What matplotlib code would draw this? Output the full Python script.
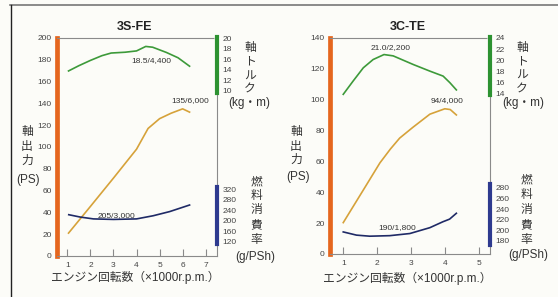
import matplotlib
matplotlib.use("Agg")
import matplotlib.pyplot as plt
from matplotlib.lines import Line2D

plt.rcParams["font.family"] = ["Liberation Sans", "Noto Sans CJK JP", "DejaVu Sans"]

W, H = 558, 297

# 3S-FE
fe_power_rpm = [1.05, 2.0, 3.0, 4.0, 4.5, 5.0, 5.5, 6.0, 6.3]
fe_power = [21, 45.5, 71.5, 98, 117, 126, 131, 135, 132]
fe_torque_rpm = [1.05, 1.5, 2.0, 2.5, 2.9, 3.5, 4.0, 4.4, 4.7, 5.3, 5.8, 6.3]
fe_torque = [13.8, 14.8, 15.8, 16.7, 17.2, 17.35, 17.6, 18.45, 18.3, 17.3, 16.3, 14.7]
fe_fuel_rpm = [1.06, 1.56, 2.13, 3.0, 4.0, 4.72, 5.44, 6.3]
fe_fuel = [223, 214, 207, 205, 207, 219, 235, 260]

# 3C-TE
te_power_rpm = [1.0, 1.59, 2.08, 2.39, 2.66, 3.05, 3.55, 3.99, 4.15, 4.33]
te_power = [20.3, 41.4, 59, 68, 75, 82, 90.5, 94, 93.5, 90]
te_torque_rpm = [1.0, 1.29, 1.59, 1.88, 2.2, 2.47, 3.06, 3.55, 3.94, 4.14, 4.33]
te_torque = [13.8, 16.2, 18.6, 20.1, 21.0, 20.76, 19.2, 18.0, 17.1, 15.9, 14.6]
te_fuel_rpm = [1.0, 1.39, 1.78, 2.37, 2.96, 3.55, 3.93, 4.13, 4.33]
te_fuel = [197, 191, 189, 190, 194, 205, 216, 221, 232]

ORANGE = "#e5661e"
GREEN_BAR = "#2d9231"
BLUE_BAR = "#2e3a8f"
C_TORQUE = "#3d9a3a"
C_POWER = "#d6a23a"
C_FUEL = "#1f2a66"
TXT = "#333333"
GRID_GRAY = "#8a8a8a"


def fx(px):
    return px / W


def fy(py):
    return 1 - py / H


def bar_ticks(a, side):
    a.tick_params(axis="y", which="both", direction="inout", length=4.5,
                  width=0.8, color="white", labelsize=6, labelcolor="#444444",
                  pad=1.5, left=(side == "left"), right=(side == "right"),
                  labelleft=(side == "left"), labelright=(side == "right"))


def panel(rect, xlim, xticks, pmax, pticks, tlim, tticks, tbounds,
          flim, fticks, fbounds, power, torque, fuel, notes):
    ax = fig.add_axes(rect)
    ax.set_facecolor("none")
    ax.set_xlim(*xlim)
    ax.set_ylim(0, pmax)
    ax.set_xticks(xticks)
    ax.set_yticks(pticks)
    for s in ("top", "right", "bottom"):
        ax.spines[s].set_color(GRID_GRAY)
        ax.spines[s].set_linewidth(0.8)
    ax.spines["left"].set_color(ORANGE)
    ax.spines["left"].set_linewidth(3.4)
    ax.tick_params(axis="x", direction="in", length=5, width=0.8,
                   color=GRID_GRAY, labelsize=6, labelcolor="#444444", pad=4.5)
    bar_ticks(ax, "left")
    ax.plot(power[0], power[1], color=C_POWER, lw=1.2, zorder=3)

    axt = ax.twinx()
    axt.set_ylim(*tlim)
    axt.set_yticks(tticks)
    for s in ("top", "left", "bottom"):
        axt.spines[s].set_visible(False)
    axt.spines["right"].set_color(GREEN_BAR)
    axt.spines["right"].set_linewidth(3.0)
    axt.spines["right"].set_bounds(*tbounds)
    bar_ticks(axt, "right")
    axt.plot(torque[0], torque[1], color=C_TORQUE, lw=1.2)

    axf = ax.twinx()
    axf.set_ylim(*flim)
    axf.set_yticks(fticks)
    for s in ("top", "left", "bottom"):
        axf.spines[s].set_visible(False)
    axf.spines["right"].set_color(BLUE_BAR)
    axf.spines["right"].set_linewidth(3.0)
    axf.spines["right"].set_bounds(*fbounds)
    bar_ticks(axf, "right")
    axf.plot(fuel[0], fuel[1], color=C_FUEL, lw=1.2)

    for txt, x, y in notes:
        ax.text(x, y, txt, fontsize=6, color=TXT, ha="center", va="center",
                zorder=5)
    return ax


def stack(x, ys, chars, size=8.5):
    for ch, y in zip(chars, ys):
        fig.text(fx(x), fy(y), ch, fontsize=size, color=TXT,
                 ha="center", va="center")


fig = plt.figure(figsize=(W / 100, H / 100), dpi=100)
fig.patch.set_facecolor("#fcfcf8")

panel([fx(57), fy(256), fx(217) - fx(57), fy(38) - fy(256)],
      (0.55, 7.49), [1, 2, 3, 4, 5, 6, 7], 200, range(0, 201, 20),
      (-21.3, 20.05), range(10, 21, 2), (9.7, 20.2),
      (65.4, 897.5), range(120, 321, 40), (112, 330),
      (fe_power_rpm, fe_power), (fe_torque_rpm, fe_torque),
      (fe_fuel_rpm, fe_fuel),
      [("18.5/4,400", 4.66, 178.9), ("135/6,000", 6.32, 142.2),
       ("205/3,000", 3.14, 36.7)])

panel([fx(330), fy(254), fx(490) - fx(330), fy(37.7) - fy(254)],
      (0.61, 5.32), [1, 2, 3, 4, 5], 140, range(0, 141, 20),
      (-15.1, 24.05), range(14, 25, 2), (13.6, 24.2),
      (155.6, 561.4), range(180, 281, 20), (172, 286),
      (te_power_rpm, te_power), (te_torque_rpm, te_torque),
      (te_fuel_rpm, te_fuel),
      [("21.0/2,200", 2.38, 133.5), ("94/4,000", 4.05, 99.0),
       ("190/1,800", 2.58, 17.3)])

# titles and axis captions
fig.text(fx(135), fy(27), "3S-FE", fontsize=9, fontweight="bold",
         color="#222222", ha="center", va="center")
fig.text(fx(408), fy(27), "3C-TE", fontsize=9, fontweight="bold",
         color="#222222", ha="center", va="center")

stack(27, [132, 147, 161], "軸出力")
fig.text(fx(28), fy(180), "(PS)", fontsize=8.5, color=TXT, ha="center", va="center")
stack(250, [48, 62, 77, 90], "軸トルク")
fig.text(fx(249), fy(103), "(kg・m)", fontsize=8.5, color=TXT, ha="center", va="center")
stack(256, [182, 196, 210, 225, 240], "燃料消費率")
fig.text(fx(255), fy(257), "(g/PSh)", fontsize=8.5, color=TXT, ha="center", va="center")
fig.text(fx(135), fy(277), "エンジン回転数（×1000r.p.m.）", fontsize=8.5,
         color=TXT, ha="center", va="center")

stack(296, [132, 147, 160], "軸出力")
fig.text(fx(298), fy(177), "(PS)", fontsize=8.5, color=TXT, ha="center", va="center")
stack(522, [48, 62, 76, 90], "軸トルク")
fig.text(fx(523), fy(103), "(kg・m)", fontsize=8.5, color=TXT, ha="center", va="center")
stack(526, [180, 195, 210, 225, 240], "燃料消費率")
fig.text(fx(528), fy(255), "(g/PSh)", fontsize=8.5, color=TXT, ha="center", va="center")
fig.text(fx(407), fy(278), "エンジン回転数（×1000r.p.m.）", fontsize=8.5,
         color=TXT, ha="center", va="center")

# scanned page frame
fig.add_artist(Line2D([fx(10), 1], [fy(5), fy(5)], color="#777777", lw=1.2))
fig.add_artist(Line2D([fx(11), fx(11)], [fy(5), 0], color="#222222", lw=1.0))

fig.savefig("out.png", dpi=100, facecolor=fig.get_facecolor())
